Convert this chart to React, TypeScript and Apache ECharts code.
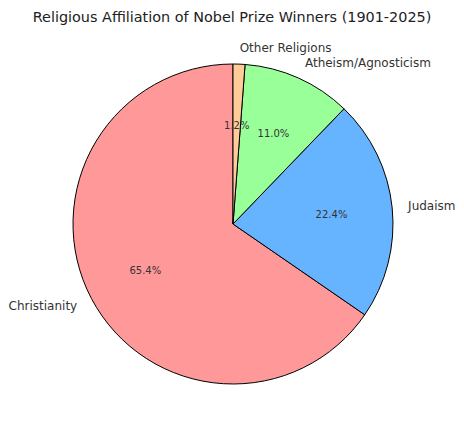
import React, { useEffect, useRef } from "react";
import * as echarts from "echarts";

const titleText = "Religious Affiliation of Nobel Prize Winners (1901-2025)";
const categories = ["Christianity", "Judaism", "Atheism/Agnosticism", "Other Religions"];
const values = [65.4, 22.4, 11.0, 1.2];
const colors = ["#ff9999", "#66b3ff", "#99ff99", "#ffcc99"];

export default function App() {
  const ref = useRef<HTMLDivElement>(null);
  useEffect(() => {
    document.body.style.margin = "0";
    const chart = echarts.init(ref.current!, null, { renderer: "svg" });
    const font = "DejaVu Sans";
    const data = categories.map((name, i) => ({
      name,
      value: values[i],
      itemStyle: { color: colors[i] },
    }));
    chart.setOption({
      animation: false,
      title: {
        text: titleText,
        left: "center",
        top: 5,
        textStyle: { fontFamily: font, fontSize: 14.4, fontWeight: "normal", color: "#222" },
      },
      series: [
        {
          type: "pie",
          center: [233, 224],
          radius: [0, 160],
          startAngle: 90,
          clockwise: false,
          avoidLabelOverlap: false,
          silent: true,
          itemStyle: { borderColor: "#000", borderWidth: 1 },
          label: {
            show: true,
            position: "outside",
            alignTo: "none",
            distanceToLabelLine: 0,
            fontFamily: font,
            fontSize: 12,
            color: "#333",
            formatter: "{b}",
          },
          labelLine: { show: false, length: 16, length2: 0 },
          emphasis: { disabled: true },
          data,
        },
        {
          type: "pie",
          center: [233, 224],
          radius: [0, 192],
          startAngle: 90,
          clockwise: false,
          avoidLabelOverlap: false,
          silent: true,
          z: 3,
          itemStyle: { color: "rgba(0,0,0,0)", borderWidth: 0 },
          label: {
            show: true,
            position: "inside",
            fontFamily: font,
            fontSize: 10,
            color: "#333",
            formatter: (p: any) => p.value.toFixed(1) + "%",
          },
          labelLine: { show: false },
          emphasis: { disabled: true },
          data: categories.map((name, i) => ({ name, value: values[i] })),
        },
      ],
    });
    return () => chart.dispose();
  }, []);
  return <div ref={ref} style={{ width: 464, height: 431 }} />;
}
